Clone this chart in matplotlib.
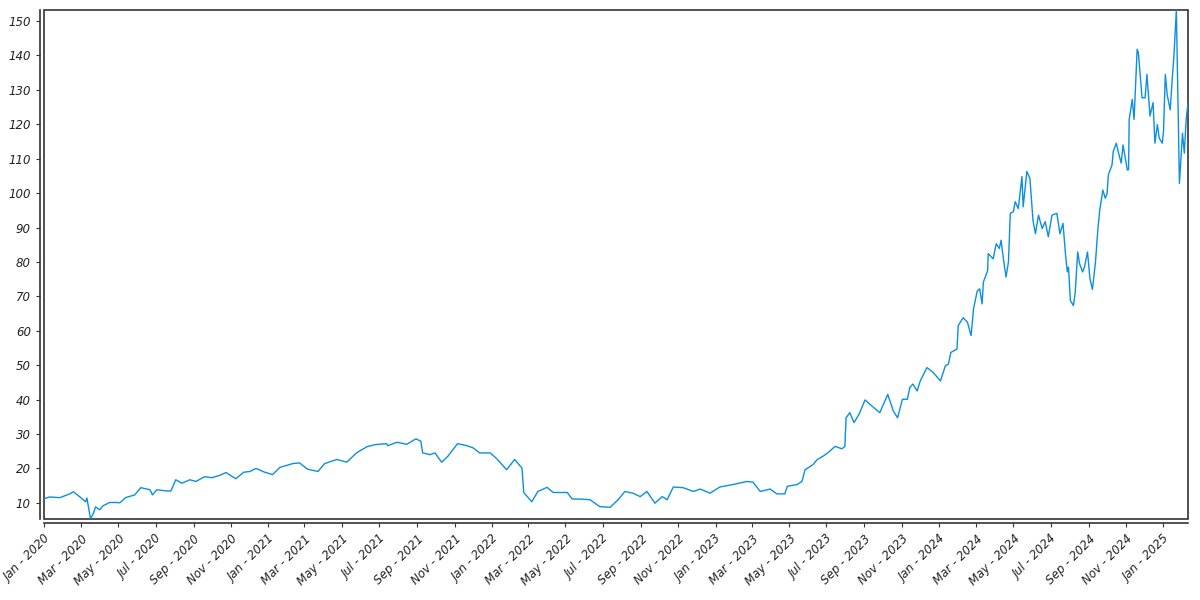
import numpy as np
import pandas as pd
import matplotlib
matplotlib.use("Agg")
import matplotlib.pyplot as plt
import matplotlib.dates as mdates
from matplotlib.ticker import MultipleLocator

plt.rcParams["font.style"] = "italic"

# values
dates_2020 = ["2020-01-01", "2020-01-10", "2020-01-27", "2020-02-12", "2020-02-18", "2020-02-28",
              "2020-03-09", "2020-03-11", "2020-03-17", "2020-03-22", "2020-03-25", "2020-04-01",
              "2020-04-06", "2020-04-17", "2020-04-29", "2020-05-04", "2020-05-13", "2020-05-28",
              "2020-06-07", "2020-06-22", "2020-06-26", "2020-07-03", "2020-07-16", "2020-07-26",
              "2020-08-03", "2020-08-13", "2020-08-26", "2020-09-05", "2020-09-19", "2020-10-01",
              "2020-10-14", "2020-10-24", "2020-11-09", "2020-11-22", "2020-12-02", "2020-12-12",
              "2020-12-26"]
values_2020 = [11.2, 11.7, 11.5, 12.6, 13.2, 11.8,
               10.3, 11.4, 5.3, 7.1, 8.8, 8.0,
               9.1, 10.1, 10.1, 10.0, 11.5, 12.3,
               14.4, 13.8, 12.3, 13.8, 13.5, 13.4,
               16.7, 15.7, 16.7, 16.2, 17.6, 17.3,
               18.0, 18.8, 17.0, 18.9, 19.1, 20.0,
               18.9]

dates_2021 = ["2021-01-08", "2021-01-20", "2021-02-10", "2021-02-21", "2021-03-06", "2021-03-23",
              "2021-04-03", "2021-04-23", "2021-05-09", "2021-05-25", "2021-06-11", "2021-06-24",
              "2021-07-13", "2021-07-15", "2021-07-30", "2021-08-15", "2021-08-30", "2021-09-07",
              "2021-09-10", "2021-09-22", "2021-09-30", "2021-10-11", "2021-10-21", "2021-11-06",
              "2021-11-21", "2021-12-01", "2021-12-12", "2021-12-29"]
values_2021 = [18.2, 20.3, 21.4, 21.6, 19.8, 19.1,
               21.4, 22.6, 21.8, 24.5, 26.3, 26.9,
               27.2, 26.6, 27.6, 27.0, 28.6, 27.9,
               24.5, 24.0, 24.5, 21.8, 23.5, 27.2,
               26.6, 26.0, 24.5, 24.5]

dates_2022 = ["2022-01-09", "2022-01-25", "2022-02-07", "2022-02-19", "2022-02-22", "2022-03-07",
              "2022-03-17", "2022-04-01", "2022-04-11", "2022-05-04", "2022-05-12", "2022-05-25",
              "2022-06-10", "2022-06-26", "2022-07-13", "2022-07-26", "2022-08-06", "2022-08-19",
              "2022-08-31", "2022-09-11", "2022-09-24", "2022-10-06", "2022-10-14", "2022-10-24",
              "2022-11-09", "2022-11-26", "2022-12-07", "2022-12-23"]
values_2022 = [22.8, 19.6, 22.6, 20.1, 13.0, 10.3,
               13.3, 14.5, 13.0, 13.0, 11.1, 11.1,
               10.9, 8.9, 8.7, 10.9, 13.3, 12.8,
               11.8, 13.3, 9.9, 11.8, 10.9, 14.6,
               14.4, 13.3, 14.0, 12.8]

dates_2023 = ["2023-01-08", "2023-01-29", "2023-02-21", "2023-03-03", "2023-03-15", "2023-03-31",
              "2023-04-11", "2023-04-24", "2023-04-28", "2023-05-14", "2023-05-22", "2023-05-27",
              "2023-06-09", "2023-06-16", "2023-06-25", "2023-07-03", "2023-07-15", "2023-07-26",
              "2023-07-31", "2023-08-02", "2023-08-08", "2023-08-15", "2023-08-23", "2023-09-02",
              "2023-09-10", "2023-09-26", "2023-10-09", "2023-10-18", "2023-10-25", "2023-11-02",
              "2023-11-10", "2023-11-14", "2023-11-19", "2023-11-26", "2023-12-01", "2023-12-12",
              "2023-12-22"]
values_2023 = [14.6, 15.3, 16.2, 16.0, 13.3, 14.0,
               12.6, 12.6, 14.8, 15.3, 16.2, 19.6,
               21.1, 22.6, 23.5, 24.5, 26.4, 25.7,
               26.4, 34.7, 36.2, 33.3, 35.7, 39.9,
               38.6, 36.2, 41.5, 36.7, 34.7, 40.1,
               40.1, 43.5, 44.5, 42.5, 45.4, 49.3,
               47.9]

dates_2024 = ["2024-01-03", "2024-01-11", "2024-01-16", "2024-01-20", "2024-01-30", "2024-02-01",
              "2024-02-09", "2024-02-16", "2024-02-22", "2024-02-26", "2024-03-03", "2024-03-07",
              "2024-03-11", "2024-03-13", "2024-03-20", "2024-03-21", "2024-03-29", "2024-04-03",
              "2024-04-08", "2024-04-11", "2024-04-14", "2024-04-19", "2024-04-23", "2024-04-26",
              "2024-05-01", "2024-05-04", "2024-05-09", "2024-05-15", "2024-05-17", "2024-05-23",
              "2024-05-28", "2024-06-02", "2024-06-06", "2024-06-11", "2024-06-17", "2024-06-22",
              "2024-06-27", "2024-07-03", "2024-07-11", "2024-07-16", "2024-07-21", "2024-07-25",
              "2024-07-28", "2024-07-30", "2024-08-02", "2024-08-07", "2024-08-10", "2024-08-14",
              "2024-08-17", "2024-08-22", "2024-08-25", "2024-08-30", "2024-09-03", "2024-09-07",
              "2024-09-12", "2024-09-16", "2024-09-19", "2024-09-24", "2024-09-28", "2024-10-01",
              "2024-10-03", "2024-10-09", "2024-10-11", "2024-10-16", "2024-10-19", "2024-10-24",
              "2024-10-27", "2024-11-03", "2024-11-05", "2024-11-06", "2024-11-11", "2024-11-14",
              "2024-11-19", "2024-11-21", "2024-11-27", "2024-12-02", "2024-12-05", "2024-12-10",
              "2024-12-15", "2024-12-18", "2024-12-22", "2024-12-25", "2024-12-30"]
values_2024 = [45.4, 49.8, 50.3, 53.7, 54.7, 61.5,
               63.8, 62.5, 58.6, 66.4, 71.5, 72.2,
               67.8, 74.1, 77.5, 82.4, 80.9, 85.3,
               83.9, 86.3, 81.9, 75.6, 80.0, 94.1,
               94.6, 97.5, 95.5, 104.8, 96.0, 106.3,
               104.3, 92.1, 88.2, 93.6, 89.7, 91.7,
               87.3, 93.6, 94.1, 88.2, 91.2, 82.4,
               77.1, 78.5, 68.8, 67.3, 71.2, 82.9,
               79.5, 77.1, 78.5, 82.9, 75.1, 72.0,
               80.0, 89.7, 95.1, 100.9, 98.5, 99.9,
               105.3, 108.2, 112.1, 114.5, 112.1, 108.7,
               114.0, 106.7, 106.8, 121.4, 127.2, 121.4,
               141.8, 140.8, 127.7, 127.7, 134.5, 122.4,
               126.3, 114.5, 119.9, 116.0, 114.5]

dates_2025 = ["2025-01-01", "2025-01-04", "2025-01-07", "2025-01-12", "2025-01-15", "2025-01-18",
              "2025-01-22", "2025-01-27", "2025-02-01", "2025-02-04", "2025-02-07", "2025-02-10"]
values_2025 = [117.9, 134.5, 128.6, 124.2, 132.5, 139.8,
               153.2, 102.8, 117.4, 111.6, 121.4, 126.3]

dates = pd.to_datetime(dates_2020 + dates_2021 + dates_2022 + dates_2023 + dates_2024 + dates_2025)
values = np.array(values_2020 + values_2021 + values_2022 + values_2023 + values_2024 + values_2025)

fig = plt.figure(figsize=(12, 6), dpi=100)
ax = fig.add_axes([44 / 1200, 81 / 600, 1144 / 1200, 509 / 600])

ax.plot(dates, values, color="#0a8fe2", linewidth=1.0)

ax.set_xlim(dates[0], dates[-1])
ax.set_ylim(values.min(), values.max())

# frame drawn by the patch, spines pushed outward a bit
ax.patch.set_edgecolor("#333333")
ax.patch.set_linewidth(1.2)
for side in ["top", "right"]:
    ax.spines[side].set_visible(False)
for side in ["left", "bottom"]:
    ax.spines[side].set_position(("outward", 3))
    ax.spines[side].set_color("#333333")
    ax.spines[side].set_linewidth(1.2)

ax.yaxis.set_major_locator(MultipleLocator(10))
ax.xaxis.set_major_locator(mdates.MonthLocator(bymonth=[1, 3, 5, 7, 9, 11]))
ax.xaxis.set_major_formatter(mdates.DateFormatter("%b - %Y"))

ax.tick_params(axis="both", direction="out", length=3, width=0.8, color="#333333",
               labelsize=8.5, labelcolor="#222222")
ax.tick_params(axis="x", labelrotation=45)
plt.setp(ax.get_xticklabels(), ha="right", rotation_mode="anchor")

fig.savefig("out.png", dpi=100)
